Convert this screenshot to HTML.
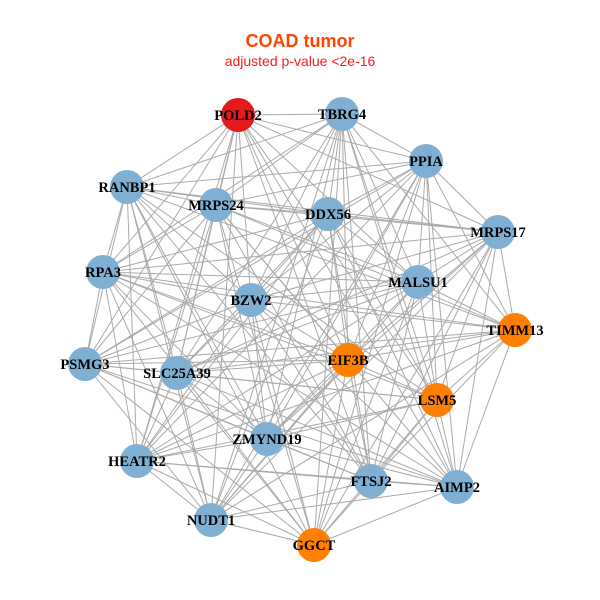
<!DOCTYPE html>
<html><head><meta charset="utf-8"><style>
html,body{margin:0;padding:0;background:#fff;width:600px;height:600px;overflow:hidden}
</style></head><body>
<svg id="s" width="600" height="600" xmlns="http://www.w3.org/2000/svg">
<rect width="600" height="600" fill="#fff"/>
<text x="300" y="47" text-anchor="middle" font-family="Liberation Sans, sans-serif" font-weight="bold" font-size="18" fill="#FF4500">COAD tumor</text>
<text x="300" y="66" text-anchor="middle" font-family="Liberation Sans, sans-serif" font-size="14" fill="#FF1A1A">adjusted p-value &lt;2e-16</text>
<g id="e" stroke="#aaaaaa" stroke-width="1"></g>
<g id="n"></g>
</svg>
<script>
var N=[["POLD2",238,115,"#E41A1C"],["TBRG4",342,114,"#7FB0D4"],["PPIA",426,161,"#7FB0D4"],["RANBP1",127,187,"#7FB0D4"],["MRPS24",216,205,"#7FB0D4"],["DDX56",328,214,"#7FB0D4"],["MRPS17",498,232,"#7FB0D4"],["RPA3",103,272,"#7FB0D4"],["MALSU1",418,282,"#7FB0D4"],["BZW2",251,300,"#7FB0D4"],["TIMM13",515,330,"#FF7F00"],["PSMG3",85,364,"#7FB0D4"],["SLC25A39",177,373,"#7FB0D4"],["EIF3B",348,360,"#FF7F00"],["LSM5",437,400,"#FF7F00"],["ZMYND19",267,439,"#7FB0D4"],["HEATR2",137,461,"#7FB0D4"],["FTSJ2",371,481,"#7FB0D4"],["AIMP2",457,487,"#7FB0D4"],["NUDT1",211,520,"#7FB0D4"],["GGCT",314,545,"#FF7F00"]];
var ns="http://www.w3.org/2000/svg",E=document.getElementById("e"),G=document.getElementById("n");
for(var i=0;i<N.length;i++)for(var j=i+1;j<N.length;j++){
 if((i*7+j*13)%5===0)continue;
 var l=document.createElementNS(ns,"line");
 l.setAttribute("x1",N[i][1]);l.setAttribute("y1",N[i][2]);l.setAttribute("x2",N[j][1]);l.setAttribute("y2",N[j][2]);E.appendChild(l);}
N.forEach(function(d){var c=document.createElementNS(ns,"circle");c.setAttribute("cx",d[1]);c.setAttribute("cy",d[2]);c.setAttribute("r",17);c.setAttribute("fill",d[3]);G.appendChild(c);});
N.forEach(function(d){var t=document.createElementNS(ns,"text");t.setAttribute("x",d[1]);t.setAttribute("y",d[2]+5);t.setAttribute("text-anchor","middle");t.setAttribute("font-family","Liberation Serif, serif");t.setAttribute("font-weight","bold");t.setAttribute("font-size","14.5");t.setAttribute("fill","#000");t.textContent=d[0];G.appendChild(t);});
</script>
</body></html>
